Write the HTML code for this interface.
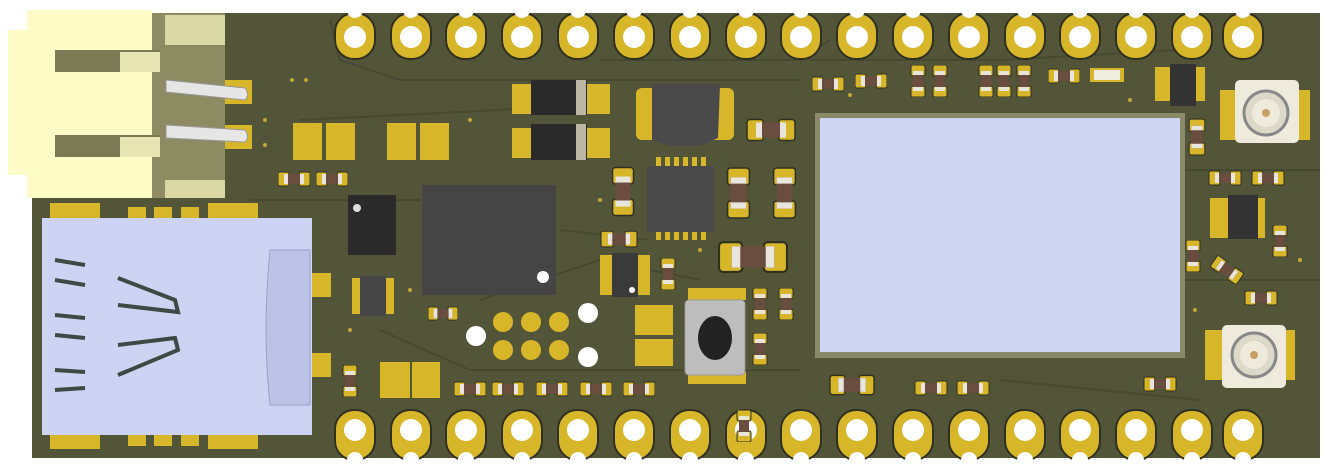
<!DOCTYPE html>
<html><head><style>body{margin:0;background:#fff}svg{display:block}</style></head><body>
<svg width="1333" height="468" viewBox="0 0 1333 468" xmlns="http://www.w3.org/2000/svg">
<defs>
<symbol id="r" viewBox="0 0 32 16"><rect x="0" y="1" width="11" height="14" rx="2" fill="#d8b62a" stroke="#2f3020"/><rect x="21" y="1" width="11" height="14" rx="2" fill="#d8b62a" stroke="#2f3020"/><rect x="6" y="3" width="20" height="10" fill="#6b4d40"/><rect x="6" y="3" width="4" height="10" fill="#e8e6dc"/><rect x="22" y="3" width="4" height="10" fill="#e8e6dc"/></symbol>
<symbol id="rv" viewBox="0 0 16 32"><rect x="1" y="0" width="14" height="11" rx="2" fill="#d8b62a" stroke="#2f3020"/><rect x="1" y="21" width="14" height="11" rx="2" fill="#d8b62a" stroke="#2f3020"/><rect x="3" y="6" width="10" height="20" fill="#6b4d40"/><rect x="3" y="6" width="10" height="4" fill="#e8e6dc"/><rect x="3" y="22" width="10" height="4" fill="#e8e6dc"/></symbol>
<g id="pt"><rect x="-20" y="13" width="40" height="46" rx="19" fill="#d8b62a" stroke="#2f3020" stroke-width="2"/><circle cx="0" cy="37" r="11" fill="#fff"/><circle cx="0" cy="10" r="8" fill="#fff"/></g>
<g id="pb"><rect x="-20" y="410" width="40" height="50" rx="19" fill="#d8b62a" stroke="#2f3020" stroke-width="2"/><circle cx="0" cy="430" r="11" fill="#fff"/><circle cx="0" cy="460" r="8" fill="#fff"/></g>
</defs>
<rect x="32" y="13" width="1288" height="445" fill="#535539"/>
<g fill="none" stroke="#464a33" stroke-width="2">
<path d="M330 20 L340 60 L400 80 L800 80 M600 60 L800 60 L830 40 M300 120 L500 110 L600 100 M480 300 L600 260 L700 280 M380 330 L470 370 L800 370 M810 60 L1000 60 L1180 50 M1180 170 L1320 170 M1180 280 L1320 280 M1000 380 L1200 400 M250 200 L420 200 M560 230 L650 240"/>
</g>
<use href="#pt" x="355"/><use href="#pt" x="411"/><use href="#pt" x="466"/><use href="#pt" x="522"/><use href="#pt" x="578"/><use href="#pt" x="634"/><use href="#pt" x="690"/><use href="#pt" x="746"/><use href="#pt" x="801"/><use href="#pt" x="857"/><use href="#pt" x="913"/><use href="#pt" x="969"/><use href="#pt" x="1025"/><use href="#pt" x="1080"/><use href="#pt" x="1136"/><use href="#pt" x="1192"/><use href="#pt" x="1243"/>
<use href="#pb" x="355"/><use href="#pb" x="411"/><use href="#pb" x="466"/><use href="#pb" x="522"/><use href="#pb" x="578"/><use href="#pb" x="634"/><use href="#pb" x="690"/><use href="#pb" x="746"/><use href="#pb" x="801"/><use href="#pb" x="857"/><use href="#pb" x="913"/><use href="#pb" x="969"/><use href="#pb" x="1025"/><use href="#pb" x="1080"/><use href="#pb" x="1136"/><use href="#pb" x="1192"/><use href="#pb" x="1243"/>
<!-- JST connector -->
<rect x="190" y="80" width="62" height="24" fill="#d8b62a"/><rect x="190" y="125" width="62" height="24" fill="#d8b62a"/>
<rect x="150" y="13" width="75" height="185" fill="#8c8b62"/>
<rect x="165" y="15" width="60" height="30" fill="#d9d7a4"/><rect x="165" y="180" width="60" height="18" fill="#d9d7a4"/>
<rect x="8" y="30" width="22" height="145" fill="#fdfbc6"/>
<rect x="27" y="10" width="125" height="188" fill="#fdfbc6"/>
<rect x="55" y="50" width="105" height="22" fill="#7a7a55"/><rect x="55" y="135" width="105" height="22" fill="#7a7a55"/>
<rect x="120" y="52" width="40" height="20" fill="#e7e5b3"/><rect x="120" y="137" width="40" height="20" fill="#e7e5b3"/>
<path d="M166 80 L245 88 Q250 95 245 100 L166 92 Z" fill="#e6e6e6" stroke="#999"/>
<path d="M166 125 L245 130 Q250 137 245 142 L166 138 Z" fill="#e6e6e6" stroke="#999"/>
<!-- SD card -->
<rect x="50" y="203" width="50" height="15" fill="#d8b62a"/><rect x="128" y="207" width="18" height="12" fill="#d8b62a"/><rect x="154" y="207" width="18" height="12" fill="#d8b62a"/><rect x="181" y="207" width="18" height="12" fill="#d8b62a"/><rect x="208" y="203" width="50" height="15" fill="#d8b62a"/>
<rect x="50" y="434" width="50" height="15" fill="#d8b62a"/><rect x="128" y="434" width="18" height="12" fill="#d8b62a"/><rect x="154" y="434" width="18" height="12" fill="#d8b62a"/><rect x="181" y="434" width="18" height="12" fill="#d8b62a"/><rect x="208" y="434" width="50" height="15" fill="#d8b62a"/>
<rect x="311" y="273" width="20" height="24" fill="#d8b62a"/><rect x="311" y="353" width="20" height="24" fill="#d8b62a"/>
<rect x="42" y="218" width="270" height="217" fill="#cdd3f2"/>
<path d="M55 260 L85 265 M55 280 L85 285 M55 315 L85 318 M55 335 L85 338 M55 370 L85 372 M55 390 L85 388 M118 278 L175 300 L178 312 L118 305 M118 345 L175 338 L178 350 L118 375" stroke="#3c4a44" stroke-width="4" fill="none"/>
<path d="M270 250 L310 250 L310 405 L270 405 Q262 330 270 250Z" fill="#bcc3e6" stroke="#9aa2c8"/>
<!-- pads -->
<rect x="293" y="123" width="29" height="37" fill="#d8b62a"/><rect x="326" y="123" width="29" height="37" fill="#d8b62a"/>
<rect x="387" y="123" width="29" height="37" fill="#d8b62a"/><rect x="420" y="123" width="29" height="37" fill="#d8b62a"/>
<use href="#r" x="278" y="171" width="32" height="16"/><use href="#r" x="316" y="171" width="32" height="16"/>
<rect x="348" y="195" width="48" height="60" fill="#2a2a2a"/><circle cx="357" cy="208" r="4" fill="#ddd"/>
<rect x="352" y="278" width="42" height="36" fill="#d8b62a"/><rect x="360" y="276" width="26" height="40" fill="#454545"/>
<rect x="422" y="185" width="134" height="110" fill="#454545"/><circle cx="543" cy="277" r="6" fill="#fff"/>
<rect x="380" y="362" width="30" height="36" fill="#d8b62a"/><rect x="412" y="362" width="28" height="36" fill="#d8b62a"/>
<use href="#rv" x="342" y="365" width="16" height="32"/>
<use href="#r" x="428" y="306" width="30" height="15"/>
<g fill="#d8b62a"><circle cx="503" cy="322" r="10"/><circle cx="531" cy="322" r="10"/><circle cx="559" cy="322" r="10"/><circle cx="503" cy="350" r="10"/><circle cx="531" cy="350" r="10"/><circle cx="559" cy="350" r="10"/></g>
<g fill="#fff"><circle cx="476" cy="336" r="10"/><circle cx="588" cy="313" r="10"/><circle cx="588" cy="357" r="10"/></g>
<use href="#r" x="454" y="381" width="32" height="16"/><use href="#r" x="492" y="381" width="32" height="16"/><use href="#r" x="536" y="381" width="32" height="16"/><use href="#r" x="580" y="381" width="32" height="16"/><use href="#r" x="623" y="381" width="32" height="16"/>
<!-- diodes -->
<rect x="512" y="84" width="98" height="30" fill="#d8b62a"/><rect x="531" y="80" width="56" height="35" fill="#2a2a2a"/><rect x="576" y="80" width="10" height="35" fill="#bcb6a4"/>
<rect x="512" y="128" width="98" height="30" fill="#d8b62a"/><rect x="531" y="124" width="56" height="36" fill="#2a2a2a"/><rect x="576" y="124" width="10" height="36" fill="#bcb6a4"/>
<!-- inductor -->
<rect x="636" y="88" width="98" height="52" rx="6" fill="#d8b62a"/><path d="M652 84 L720 84 L718 138 L700 146 L670 146 L652 140 Z" fill="#4a4a4a"/>
<use href="#r" x="740" y="118" width="62" height="24"/>
<!-- QFN -->
<g fill="#d8b62a"><rect x="656" y="157" width="5" height="10"/><rect x="665" y="157" width="5" height="10"/><rect x="674" y="157" width="5" height="10"/><rect x="683" y="157" width="5" height="10"/><rect x="692" y="157" width="5" height="10"/><rect x="701" y="157" width="5" height="10"/><rect x="656" y="230" width="5" height="10"/><rect x="665" y="230" width="5" height="10"/><rect x="674" y="230" width="5" height="10"/><rect x="683" y="230" width="5" height="10"/><rect x="692" y="230" width="5" height="10"/><rect x="701" y="230" width="5" height="10"/></g>
<rect x="647" y="166" width="67" height="66" fill="#4a4a4a"/>
<use href="#rv" x="611" y="160" width="24" height="63"/><use href="#rv" x="726" y="161" width="25" height="64"/><use href="#rv" x="772" y="161" width="25" height="64"/>
<use href="#r" x="600" y="230" width="38" height="18"/>
<use href="#r" x="718" y="240" width="70" height="34"/>
<rect x="600" y="255" width="50" height="40" fill="#d8b62a"/><rect x="612" y="253" width="26" height="44" fill="#3a3a3a"/><circle cx="632" cy="290" r="3" fill="#fff"/>
<use href="#rv" x="660" y="258" width="16" height="32"/>
<rect x="635" y="305" width="38" height="30" fill="#d8b62a"/><rect x="635" y="339" width="38" height="27" fill="#d8b62a"/>
<rect x="688" y="288" width="58" height="12" fill="#d8b62a"/><rect x="688" y="372" width="58" height="12" fill="#d8b62a"/>
<rect x="685" y="300" width="60" height="75" rx="4" fill="#bdbdbd" stroke="#999"/><ellipse cx="715" cy="338" rx="17" ry="22" fill="#222"/>
<use href="#rv" x="752" y="288" width="16" height="32"/><use href="#rv" x="778" y="288" width="16" height="32"/><use href="#rv" x="752" y="333" width="16" height="32"/>
<!-- module -->
<rect x="815" y="113" width="370" height="245" fill="#8a8a6a"/>
<rect x="820" y="118" width="360" height="234" fill="#cdd5f3"/>
<!-- top right small parts -->
<use href="#r" x="812" y="76" width="32" height="16"/><use href="#r" x="855" y="73" width="32" height="16"/><use href="#rv" x="910" y="65" width="16" height="32"/><use href="#rv" x="932" y="65" width="16" height="32"/><use href="#rv" x="978" y="65" width="16" height="32"/><use href="#rv" x="996" y="65" width="16" height="32"/><use href="#rv" x="1016" y="65" width="16" height="32"/><use href="#r" x="1048" y="68" width="32" height="16"/>
<rect x="1090" y="68" width="34" height="14" fill="#d8b62a"/><rect x="1094" y="70" width="26" height="10" fill="#f0eee0"/>
<rect x="1155" y="67" width="50" height="34" fill="#d8b62a"/><rect x="1170" y="64" width="26" height="42" fill="#333"/>
<rect x="1220" y="90" width="90" height="50" fill="#d8b62a"/><rect x="1235" y="80" width="64" height="63" rx="5" fill="#eeebdc"/><circle cx="1266" cy="113" r="22" fill="#ddd9c8" stroke="#888" stroke-width="3"/><circle cx="1266" cy="113" r="14" fill="#eeebdc"/><circle cx="1266" cy="113" r="4" fill="#c9a063"/>
<use href="#rv" x="1188" y="118" width="18" height="38"/>
<use href="#r" x="1208" y="170" width="34" height="16"/><use href="#r" x="1248" y="170" width="40" height="16"/>
<rect x="1210" y="198" width="55" height="40" fill="#d8b62a"/><rect x="1228" y="195" width="30" height="44" fill="#333"/>
<use href="#rv" x="1272" y="225" width="16" height="32"/><use href="#rv" x="1185" y="240" width="16" height="32"/>
<use href="#r" x="1210" y="262" width="34" height="16" transform="rotate(35 1227 270)"/>
<use href="#r" x="1240" y="290" width="42" height="16"/>
<rect x="1205" y="330" width="90" height="50" fill="#d8b62a"/><rect x="1222" y="325" width="64" height="63" rx="5" fill="#eeebdc"/><circle cx="1254" cy="355" r="22" fill="#ddd9c8" stroke="#888" stroke-width="3"/><circle cx="1254" cy="355" r="14" fill="#eeebdc"/><circle cx="1254" cy="355" r="4" fill="#c9a063"/>
<use href="#r" x="820" y="374" width="64" height="22"/><use href="#r" x="913" y="380" width="36" height="16"/><use href="#r" x="955" y="380" width="36" height="16"/><use href="#r" x="1140" y="376" width="40" height="16"/>
<use href="#rv" x="736" y="410" width="16" height="32"/>
<g fill="#c4a836"><circle cx="292" cy="80" r="2"/><circle cx="306" cy="80" r="2"/><circle cx="265" cy="120" r="2"/><circle cx="265" cy="145" r="2"/><circle cx="470" cy="120" r="2"/><circle cx="350" cy="330" r="2"/><circle cx="410" cy="290" r="2"/><circle cx="600" cy="200" r="2"/><circle cx="700" cy="250" r="2"/><circle cx="850" cy="95" r="2"/><circle cx="1195" cy="310" r="2"/><circle cx="1130" cy="100" r="2"/><circle cx="1300" cy="260" r="2"/></g>
</svg>
</body></html>
